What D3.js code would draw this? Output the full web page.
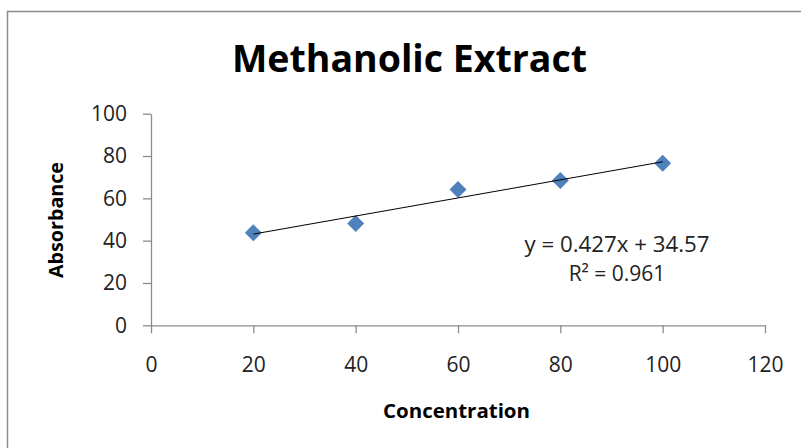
<!DOCTYPE html>
<html>
<head>
<meta charset="utf-8">
<script src="https://cdn.jsdelivr.net/npm/d3@7"></script>
<style>
  body { margin: 0; background: #fff; }
  text { font-family: "Open Sans", sans-serif; }
</style>
</head>
<body>
<script>
// data
var concentration = [20, 40, 60, 80, 100];
var absorbance = [43.7, 48.1, 64.2, 68.4, 76.6];
var xTicks = [0, 20, 40, 60, 80, 100, 120];
var yTicks = [0, 20, 40, 60, 80, 100];
var trendSlope = 0.427;
var trendIntercept = 34.57;
var trendRange = [20, 100];

var width = 801, height = 448;
var margin = {top: 113.7, right: 36, bottom: 122.7, left: 151};

var xScale = d3.scaleLinear().domain([0, 120]).range([margin.left, width - margin.right]);
var yScale = d3.scaleLinear().domain([0, 100]).range([height - margin.bottom, margin.top]);

var svg = d3.select("body")
            .append("svg")
            .attr("width", width)
            .attr("height", height);

// chart border
svg.append("rect")
   .attr("x", 7.5)
   .attr("y", 11.5)
   .attr("width", 820)
   .attr("height", 460)
   .attr("fill", "#fff")
   .attr("stroke", "#8c8c8c")
   .attr("stroke-width", 1.5);

// title
svg.append("text")
   .attr("x", 409.5)
   .attr("y", 72)
   .attr("text-anchor", "middle")
   .attr("font-size", 37)
   .attr("font-weight", "bold")
   .attr("textLength", 355)
   .attr("lengthAdjust", "spacingAndGlyphs")
   .text("Methanolic Extract");

// X axis
var xAxis = svg.append("g")
               .attr("transform", `translate(0, ${yScale(0)})`)
               .call(d3.axisBottom(xScale).tickValues(xTicks).tickSize(8).tickPadding(24).tickSizeOuter(0));

// Y axis
var yAxis = svg.append("g")
               .attr("transform", `translate(${xScale(0)}, 0)`)
               .call(d3.axisLeft(yScale).tickValues(yTicks).tickSize(8).tickPadding(16).tickSizeOuter(0));

[xAxis, yAxis].forEach(function(ax) {
  ax.attr("font-size", 21).attr("font-family", "'Open Sans', sans-serif");
  ax.select(".domain").attr("stroke", "#8c8c8c").attr("stroke-width", 1.3);
  ax.selectAll(".tick line").attr("stroke", "#8c8c8c").attr("stroke-width", 1.3);
  ax.selectAll(".tick text").attr("fill", "#222");
});

// X label
svg.append("text")
   .attr("x", 456.5)
   .attr("y", 418)
   .attr("text-anchor", "middle")
   .attr("font-size", 19)
   .attr("font-weight", "bold")
   .attr("textLength", 147)
   .attr("lengthAdjust", "spacingAndGlyphs")
   .text("Concentration");

// Y label
svg.append("text")
   .attr("transform", "rotate(-90)")
   .attr("x", -220)
   .attr("y", 63)
   .attr("text-anchor", "middle")
   .attr("font-size", 19)
   .attr("font-weight", "bold")
   .attr("textLength", 116)
   .attr("lengthAdjust", "spacingAndGlyphs")
   .text("Absorbance");

// points
var points = concentration.map(function(c, i) { return {x: c, y: absorbance[i]}; });

svg.append("g")
   .selectAll("path")
   .data(points)
   .enter()
   .append("path")
   .attr("d", d3.symbol(d3.symbolSquare, 144))
   .attr("transform", function(d) { return `translate(${xScale(d.x)}, ${yScale(d.y)}) rotate(45)`; })
   .attr("fill", "#4f81bd");

// trend line
var line_plot = d3.line()
                  .x(function(d) { return xScale(d); })
                  .y(function(d) { return yScale(trendSlope * d + trendIntercept); });

svg.append("path")
   .attr("d", line_plot(trendRange))
   .attr("stroke", "#000")
   .attr("stroke-width", 1)
   .attr("fill", "none");

// equation label
var eq = svg.append("text")
            .attr("text-anchor", "middle")
            .attr("font-size", 21)
            .attr("fill", "#222");
eq.append("tspan")
  .attr("x", 617)
  .attr("y", 252)
  .attr("textLength", 185)
  .attr("lengthAdjust", "spacingAndGlyphs")
  .text("y = " + trendSlope + "x + " + trendIntercept);
eq.append("tspan")
  .attr("x", 617)
  .attr("y", 281)
  .text("R² = 0.961");
</script>
</body>
</html>
